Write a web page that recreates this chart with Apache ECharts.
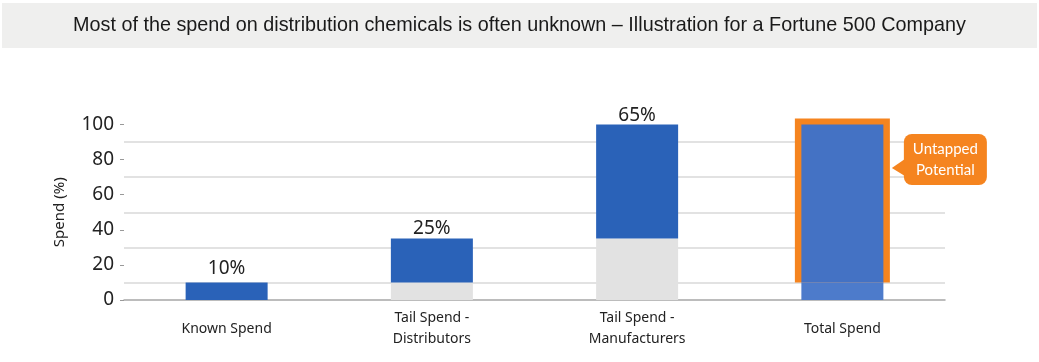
<!DOCTYPE html>
<html>
<head>
<meta charset="utf-8">
<script src="https://cdn.jsdelivr.net/npm/echarts@6/dist/echarts.min.js"></script>
<style>html,body{margin:0;padding:0;background:#fff}#c{width:1039px;height:362px}</style>
</head>
<body>
<div id="c"></div>
<script>
const titleText = 'Most of the spend on distribution chemicals is often unknown \u2013 Illustration for a Fortune 500 Company';
const categories = ['Known Spend', 'Tail Spend -\nDistributors', 'Tail Spend -\nManufacturers', 'Total Spend'];
const baseValues = [0, 10, 35, 10];
const spendValues = [10, 25, 65, 90];
const spendLabels = ['10%', '25%', '65%', ''];
const untappedRange = [[3, 10, 100]];
const gridValues = [10, 30, 50, 70, 90];
const yTicks = { min: 0, max: 100, interval: 20 };

// style-only settings
const FONT = '"Noto Sans", "Open Sans", sans-serif';
const BAR_W = 82;
const LABEL_DIST = [4, 0, -1, 0];
const blue = '#2a62b8';
const chart = echarts.init(document.getElementById('c'), null, { renderer: 'canvas' });

chart.setOption({
  animation: false,
  backgroundColor: '#ffffff',
  title: {
    text: titleText,
    left: 'center', top: 11,
    textStyle: { fontFamily: '"Liberation Sans", Arial, sans-serif', fontSize: 19.8, fontWeight: 'normal', color: '#1a1a1a' }
  },
  graphic: [{ type: 'rect', z: -10, shape: { x: 2, y: 3, width: 1035, height: 45 }, style: { fill: '#efefee' } }],
  grid: { left: 124, right: 94, top: 124.5, bottom: 62 },
  xAxis: {
    type: 'category', data: categories,
    axisLine: { lineStyle: { color: '#a6a6a6', width: 1.5 } },
    axisTick: { show: false },
    axisLabel: { fontFamily: FONT, fontSize: 14, color: '#222', margin: 29, lineHeight: 21, verticalAlign: 'middle' }
  },
  yAxis: {
    type: 'value', min: yTicks.min, max: yTicks.max, interval: yTicks.interval,
    name: 'Spend (%)', nameLocation: 'middle', nameGap: 57, nameRotate: 90,
    nameTextStyle: { fontFamily: FONT, fontSize: 15, color: '#222' },
    axisLine: { show: false },
    axisTick: { show: true, length: 4, lineStyle: { color: '#999' } },
    splitLine: { show: false },
    axisLabel: { fontFamily: FONT, fontSize: 19, color: '#222', margin: 10 }
  },
  series: [
    {
      type: 'bar', name: 'grid', data: [], z: 0, silent: true,
      markLine: {
        z: 0, silent: true, symbol: 'none', label: { show: false },
        lineStyle: { color: '#d9d9d9', width: 1.5, type: 'solid' },
        data: gridValues.map(v => ({ yAxis: v }))
      }
    },
    {
      type: 'custom', name: 'untapped', z: 8, clip: false,
      encode: { x: 0, y: [1, 2] },
      data: untappedRange,
      renderItem: function (params, api) {
        const low = api.coord([api.value(0), api.value(1)]);
        const high = api.coord([api.value(0), api.value(2)]);
        const cx = low[0];
        const half = BAR_W / 2 + 6.5;
        const top = high[1] - 6;
        const right = cx + half;
        const bx = right + 14, by = high[1] + 9.5, bw = 83, bh = 51;
        const tipY = by + 34;
        return {
          type: 'group',
          children: [
            { type: 'rect', shape: { x: cx - half, y: top, width: half * 2, height: low[1] - top }, style: { fill: '#f5841f' } },
            { type: 'rect', shape: { x: bx, y: by, width: bw, height: bh, r: 8 }, style: { fill: '#f5841f' } },
            { type: 'polygon', shape: { points: [[right + 2, tipY], [bx + 1, tipY - 9], [bx + 1, tipY + 8]] }, style: { fill: '#f5841f' } },
            { type: 'text', style: { text: 'Untapped\nPotential', x: bx + bw / 2, y: by + bh / 2, align: 'center', verticalAlign: 'middle', fill: '#ffffff', font: '15px Lato, ' + FONT, lineHeight: 21 } }
          ]
        };
      }
    },
    {
      type: 'bar', name: 'base', stack: 's', z: 10, barWidth: BAR_W,
      data: baseValues.map((v, i) => ({ value: v, itemStyle: { color: i === 3 ? '#4d7bcb' : '#e2e2e2' } }))
    },
    {
      type: 'bar', name: 'spend', stack: 's', z: 10, barWidth: BAR_W,
      data: spendValues.map((v, i) => ({
        value: v,
        itemStyle: { color: i === 3 ? '#4472c4' : blue },
        label: { distance: LABEL_DIST[i] }
      })),
      label: {
        show: true, position: 'top',
        fontFamily: FONT, fontSize: 19, color: '#222',
        formatter: p => spendLabels[p.dataIndex]
      }
    }
  ]
});
</script>
</body>
</html>
